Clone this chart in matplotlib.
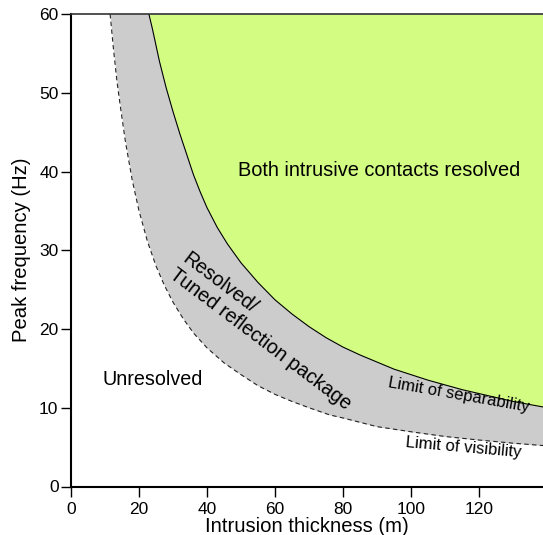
import numpy as np
import matplotlib
matplotlib.use("Agg")
import matplotlib.pyplot as plt

plt.rcParams['font.family'] = ['Liberation Sans', 'DejaVu Sans']

# limit of separability (solid)
sep_t = [22.9, 24, 26, 28, 30, 32, 34, 36, 38, 40, 43, 46, 50, 55, 60, 65,
         70, 75, 80, 85, 90, 95, 100, 105, 110, 115, 120, 125, 130, 135, 138.8]
sep_f = [60, 58, 54, 50.6, 47.6, 44.8, 42.2, 39.6, 37.4, 35.4, 32.9, 30.8,
         28.4, 25.9, 23.7, 21.9, 20.3, 18.9, 17.7, 16.7, 15.8, 14.9, 14.2,
         13.5, 12.9, 12.3, 11.8, 11.3, 10.8, 10.4, 10.1]

# limit of visibility (dashed)
vis_t = [11.5, 12.5, 13.5, 14.5, 16, 18, 20, 22.5, 25, 27.5, 30, 33, 36, 40,
         45, 50, 55, 60, 65, 70, 76, 80, 90, 100, 110, 120, 130, 138.8]
vis_f = [60, 55.5, 51.5, 48.3, 43.8, 38.9, 35, 31.1, 28, 25.5, 23.4, 21.3,
         19.5, 17.6, 15.7, 14.2, 12.8, 11.7, 10.8, 10, 9.1, 8.7, 7.6, 6.95,
         6.35, 5.9, 5.5, 5.2]

xmax = 138.8
ymax = 60

fig = plt.figure(figsize=(5.43, 5.35), dpi=100)
ax = fig.add_axes([71/543, 48.5/535, 1-71/543, 472.5/535])

ax.fill_between(vis_t, vis_f, ymax, color='#cccccc', lw=0)
ax.fill_between(sep_t, sep_f, ymax, color='#d3fc83', lw=0)
ax.plot(sep_t, sep_f, color='black', lw=0.8)
ax.plot(vis_t, vis_f, color='#222222', lw=0.8, ls=(0, (4, 3)))

ax.set_xlim(0, xmax)
ax.set_ylim(0, ymax)
ax.set_xticks(np.arange(0, 121, 20))
ax.set_yticks(np.arange(0, 61, 10))
ax.tick_params(direction='out', length=7, width=1, labelsize=12.5)
ax.tick_params(axis='x', pad=4)
ax.tick_params(axis='y', pad=2)
ax.spines['right'].set_visible(False)
for s in ['left', 'bottom']:
    ax.spines[s].set_linewidth(1.5)
ax.spines['top'].set_linewidth(1.2)
ax.spines['top'].set_color('#333333')

ax.set_xlabel('Intrusion thickness (m)', fontsize=14.6, labelpad=0)
ax.set_ylabel('Peak frequency (Hz)', fontsize=14.6, labelpad=6)

ax.text(90.6, 40.1, 'Both intrusive contacts resolved', fontsize=14.4,
        ha='center', va='center')
ax.text(24.1, 13.6, 'Unresolved', fontsize=14.2, ha='center', va='center')
ax.text(35.0, 30.2, 'Resolved/\nTuned reflection package', fontsize=14.2,
        rotation=-37, rotation_mode='anchor', ha='left', va='top',
        linespacing=1.1)
ax.text(114.0, 11.6, 'Limit of separability', fontsize=12,
        rotation=-10, rotation_mode='anchor', ha='center', va='center')
ax.text(115.5, 5.0, 'Limit of visibility', fontsize=12,
        rotation=-5, rotation_mode='anchor', ha='center', va='center')

fig.savefig('out.png', dpi=100)
